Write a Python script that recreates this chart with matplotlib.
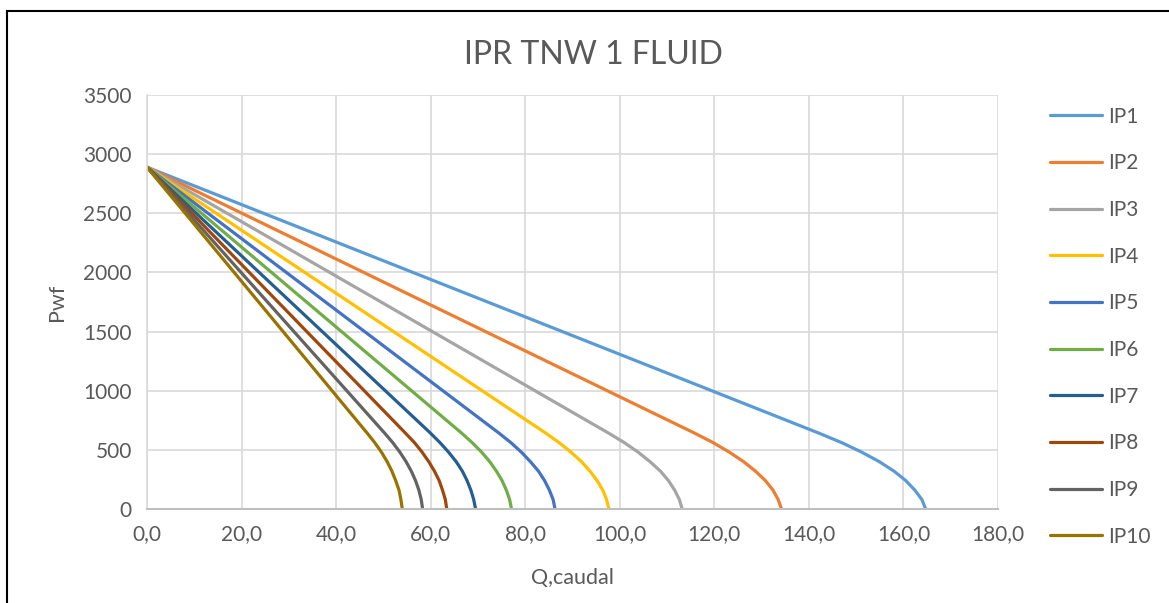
import matplotlib
matplotlib.use("Agg")
import matplotlib.pyplot as plt
from matplotlib.patches import Rectangle
from matplotlib.ticker import FuncFormatter, MultipleLocator

plt.rcParams["font.family"] = ["Lato", "DejaVu Sans"]

# presion de fondo (Pwf) comun a todas las curvas
pwf = [2890, 640, 560, 480, 400, 320, 240, 160, 80, 0]

q_ip1 = [0, 142.2, 147.0, 151.2, 154.9, 158.0, 160.5, 162.4, 163.9, 164.7]
q_ip2 = [0, 115.9, 119.8, 123.2, 126.2, 128.7, 130.8, 132.4, 133.5, 134.2]
q_ip3 = [0, 97.7, 101.0, 103.9, 106.4, 108.6, 110.3, 111.6, 112.6, 113.2]
q_ip4 = [0, 84.4, 87.2, 89.7, 91.9, 93.7, 95.2, 96.4, 97.2, 97.7]
q_ip5 = [0, 74.5, 77.0, 79.2, 81.1, 82.8, 84.1, 85.1, 85.9, 86.3]
q_ip6 = [0, 66.6, 68.8, 70.8, 72.5, 73.9, 75.1, 76.0, 76.7, 77.1]
q_ip7 = [0, 60.0, 62.0, 63.8, 65.4, 66.7, 67.7, 68.5, 69.1, 69.5]
q_ip8 = [0, 54.7, 56.6, 58.2, 59.6, 60.8, 61.8, 62.5, 63.1, 63.4]
q_ip9 = [0, 50.3, 52.0, 53.5, 54.8, 55.9, 56.8, 57.5, 58.0, 58.3]
q_ip10 = [0, 46.6, 48.2, 49.6, 50.8, 51.8, 52.6, 53.3, 53.7, 54.0]

labels = ["IP1", "IP2", "IP3", "IP4", "IP5", "IP6", "IP7", "IP8", "IP9", "IP10"]
series = [q_ip1, q_ip2, q_ip3, q_ip4, q_ip5, q_ip6, q_ip7, q_ip8, q_ip9, q_ip10]
colors = ["#5B9BD5", "#ED7D31", "#A5A5A5", "#FFC000", "#4472C4",
          "#70AD47", "#255E91", "#9E480E", "#636363", "#997300"]

TXT = "#595959"
GRID = "#D9D9D9"

fig = plt.figure(figsize=(11.69, 6.03), dpi=100)
ax = fig.add_axes([147 / 1169, 1 - 509 / 603, 851 / 1169, 414 / 603])

for q, lab, c in zip(series, labels, colors):
    ax.plot(q, pwf, color=c, lw=2.3, label=lab, solid_capstyle="round")

ax.set_xlim(0, 180)
ax.set_ylim(0, 3500)
ax.xaxis.set_major_locator(MultipleLocator(20))
ax.yaxis.set_major_locator(MultipleLocator(500))
ax.xaxis.set_major_formatter(FuncFormatter(lambda v, _: f"{v:.1f}".replace(".", ",")))
ax.grid(True, color=GRID, lw=1.2)
ax.set_axisbelow(True)
for side in ["top", "right"]:
    ax.spines[side].set_visible(False)
ax.spines["left"].set_color(GRID)
ax.spines["bottom"].set_color("#BFBFBF")
ax.spines["left"].set_linewidth(1.2)
ax.spines["bottom"].set_linewidth(1.5)
ax.tick_params(length=0, labelsize=15, colors=TXT, pad=11)

ax.set_xlabel("Q,caudal", fontsize=15.5, color=TXT, labelpad=17)
ax.set_ylabel("Pwf", fontsize=15.5, color=TXT, labelpad=12)
fig.text(593 / 1169, 1 - 55 / 603, "IPR TNW 1 FLUID", fontsize=23,
         color=TXT, ha="center", va="center")

fig.legend(loc="upper left", bbox_to_anchor=(1031 / 1169, 1 - 88 / 603),
           frameon=False, fontsize=15, handlelength=2.5, handletextpad=0.3,
           labelspacing=1.28, labelcolor=TXT)

fig.add_artist(Rectangle((7 / 1169, -0.01), 1.0, 1 - 11 / 603 + 0.01,
                         transform=fig.transFigure, fill=False,
                         edgecolor="black", lw=1.5))

fig.savefig("out.png", dpi=100)
